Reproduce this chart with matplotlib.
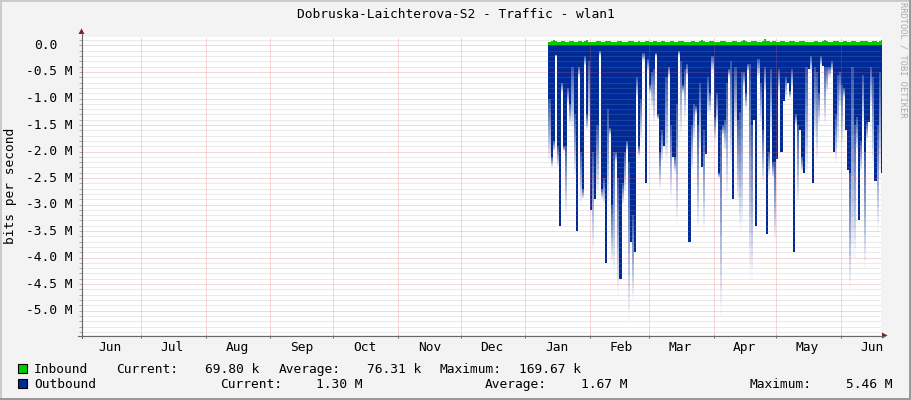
import matplotlib
matplotlib.use('Agg')
import matplotlib.pyplot as plt
import matplotlib.dates as mdates
from matplotlib.ticker import MultipleLocator, NullFormatter
from matplotlib.patches import Rectangle, Polygon
from matplotlib.lines import Line2D
from datetime import datetime, timedelta
import numpy as np

plt.rcParams['font.family'] = ['DejaVu Sans Mono', 'DejaVu Sans']

# daily values from 2023-01-12 on, outbound in Mbit/s (average and peak), inbound in kbit/s
start_day = datetime(2023, 1, 12)

out_avg = [
    1.0, 2.1, 1.8, 0.18, 1.9, 3.4, 0.7, 1.9, 1.9, 0.8,
    1.1, 0.4, 1.3, 3.5, 0.4, 2.0, 2.7, 0.2, 1.3, 0.3,
    3.1, 2.0, 2.9, 1.5, 0.1, 2.7, 2.5, 4.1, 1.2, 1.55,
    3.0, 2.0, 2.0, 2.5, 4.4, 2.6, 2.0, 1.8, 2.2, 3.7,
    3.2, 3.9, 0.6, 1.9, 1.0, 0.15, 2.6, 0.25, 0.75, 0.5,
    0.45, 0.15, 1.3, 2.0, 1.6, 1.9, 0.6, 0.4, 1.5, 2.1,
    2.1, 1.1, 0.1, 0.3, 0.75, 0.45, 0.35, 3.7, 1.5, 1.1,
    1.15, 1.5, 0.7, 2.3, 1.6, 2.05, 0.6, 0.9, 0.2, 1.35,
    0.9, 2.4, 1.6, 1.5, 1.4, 0.7, 0.45, 0.3, 2.9, 0.4,
    1.4, 1.25, 0.5, 0.5, 0.9, 0.35, 0.35, 1.5, 1.4, 3.4,
    0.25, 0.7, 1.6, 0.4, 3.55, 2.0, 0.45, 2.2, 2.2, 2.15,
    0.45, 2.0, 1.05, 0.6, 0.7, 0.85, 0.45, 3.9, 1.3, 1.5,
    1.6, 2.1, 2.4, 0.4, 0.45, 0.2, 2.6, 0.4, 0.5, 0.9,
    0.2, 0.38, 0.4, 0.4, 0.4, 0.3, 2.0, 1.3, 0.55, 0.5,
    0.75, 0.8, 1.6, 2.35, 2.4, 0.4, 1.5, 1.35, 3.3, 1.8,
    0.55, 2.0, 1.45, 1.45, 0.4, 0.6, 2.55, 1.5, 0.5, 2.4,
    1.35, 1.4,
]

out_max = [
    2.2, 2.3, 2.0, 0.2, 2.3, 3.4, 0.9, 2.0, 3.2, 1.1,
    1.5, 1.6, 2.5, 3.5, 0.6, 3.0, 2.9, 0.4, 1.6, 1.5,
    3.1, 3.9, 2.9, 2.8, 0.2, 2.9, 3.0, 4.1, 3.0, 1.7,
    4.1, 4.3, 2.2, 4.7, 4.4, 3.0, 2.8, 2.0, 5.2, 3.7,
    4.8, 3.9, 1.0, 2.1, 1.8, 0.3, 2.6, 0.5, 0.9, 1.2,
    1.5, 0.2, 1.4, 2.7, 2.2, 1.9, 2.2, 0.6, 2.9, 2.1,
    2.4, 3.4, 0.2, 1.7, 0.9, 1.4, 0.6, 3.7, 2.4, 1.8,
    1.3, 3.5, 2.0, 2.3, 3.5, 2.05, 1.3, 1.3, 0.5, 1.8,
    1.5, 2.5, 5.1, 1.7, 2.0, 2.9, 0.6, 2.3, 2.9, 1.6,
    3.0, 3.5, 3.5, 0.8, 1.2, 0.5, 4.4, 4.4, 1.4, 3.4,
    0.6, 1.5, 2.6, 0.9, 3.55, 2.5, 1.7, 2.5, 3.7, 2.15,
    0.9, 2.0, 1.05, 1.0, 0.7, 1.0, 0.8, 3.9, 1.5, 3.0,
    1.6, 2.4, 2.4, 2.5, 0.45, 0.5, 2.6, 1.8, 2.2, 1.5,
    0.4, 0.38, 1.5, 0.9, 0.6, 0.5, 2.0, 2.2, 1.9, 1.2,
    1.9, 1.0, 1.6, 2.35, 4.6, 4.0, 4.0, 2.0, 3.3, 2.4,
    1.5, 4.2, 1.8, 1.45, 1.2, 2.3, 2.55, 3.5, 2.5, 2.4,
    1.5, 1.4,
]

in_k = [
    72, 85, 96, 78, 64, 70, 88, 92, 75, 69, 81, 77, 60, 66, 90, 84, 73, 79, 95, 71,
    68, 62, 74, 86, 80, 58, 63, 77, 91, 82, 70, 66, 75, 88, 79, 72, 60, 69, 84, 93,
    76, 71, 65, 80, 74, 67, 89, 83, 70, 62, 78, 85, 73, 68, 92, 81, 66, 74, 87, 79,
    71, 64, 76, 90, 82, 69, 73, 61, 78, 86, 75, 70, 84, 97, 80, 72, 67, 79, 88, 74,
    65, 71, 83, 92, 78, 70, 62, 75, 86, 81, 73, 68, 80, 94, 85, 72, 66, 77, 89, 79,
    70, 64, 82, 118, 90, 76, 71, 84, 78, 69, 73, 86, 80, 74, 67, 79, 91, 83, 72, 68,
    77, 88, 81, 75, 70, 62, 74, 85, 79, 73, 66, 80, 95, 86, 74, 69, 78, 90, 82, 75,
    71, 84, 77, 68, 73, 87, 80, 72, 65, 79, 92, 84, 76, 70, 74, 88, 81, 73, 78, 95, 140, 70,
]

title = 'Dobruska-Laichterova-S2 - Traffic - wlan1'
legend_rows = [
    ('Inbound', '#00CC00', [('Current:', 116, '69.80 k', 205), ('Average:', 279, '76.31 k', 367),
                            ('Maximum:', 440, '169.67 k', 519)]),
    ('Outbound', '#002A97', [('Current:', 220, '1.30 M', 316), ('Average:', 485, '1.67 M', 581),
                             ('Maximum:', 750, '5.46 M', 846)]),
]

W, H = 911, 400
BLUE = '#002A97'
GREEN = '#00CC00'
AXIS = '#686868'
FS = 9.3


def fx(px):
    return px / W


def fy(py):
    return 1 - py / H


fig = plt.figure(figsize=(W / 100, H / 100), dpi=100)
fig.patch.set_facecolor('#F3F3F3')

ax = fig.add_axes([fx(82), fy(335), (881 - 82) / W, (335 - 37) / H])
ax.set_facecolor('white')

days = [start_day + timedelta(days=i) for i in range(len(out_avg))]
edges = days + [days[-1] + timedelta(days=1)]
avg = np.array(out_avg + [out_avg[-1]]) * 1e6
peak = np.array(out_max + [out_max[-1]]) * 1e6
inb = np.array(in_k + [in_k[-1]]) * 1e3

# outbound: solid average, peak fading out below it
ax.fill_between(edges, 0, -avg, step='post', color=BLUE, lw=0, zorder=1)
n_slices = 14
for k in range(n_slices):
    y0 = avg + (peak - avg) * k / n_slices
    y1 = avg + (peak - avg) * (k + 1) / n_slices
    ax.fill_between(edges, -y0, -y1, step='post', color=BLUE, lw=0,
                    alpha=0.8 * (1 - (k + 0.5) / n_slices), antialiased=False, zorder=1)
ax.fill_between(edges, 0, inb, step='post', color=GREEN, lw=0, zorder=1)

ax.set_xlim(datetime(2022, 6, 2, 20), datetime(2023, 6, 20, 3))
ax.set_ylim(-5.46e6, 0.16e6)

# grid
ax.set_axisbelow(False)
ax.yaxis.set_major_locator(MultipleLocator(0.5e6))
ax.yaxis.set_minor_locator(MultipleLocator(0.1e6))
ax.xaxis.set_major_locator(mdates.MonthLocator(bymonthday=1))
ax.xaxis.set_major_formatter(NullFormatter())
ax.xaxis.set_minor_locator(mdates.MonthLocator(bymonthday=16))
ax.xaxis.set_minor_formatter(mdates.DateFormatter('%b'))
dots = (0, (1, 1))
ax.grid(which='major', color='#E06060', alpha=0.5, linestyle=dots, lw=0.72)
ax.grid(which='minor', axis='y', color='#999999', alpha=0.4, linestyle=dots, lw=0.72)

ax.tick_params(axis='x', which='major', length=2.2, width=0.72, color=AXIS, direction='out')
ax.tick_params(axis='x', which='minor', length=0, labelsize=FS, pad=4)
ax.tick_params(axis='y', which='both', length=2, width=0.72, color='#AAAAAA', direction='out',
               labelleft=False)
for s in ax.spines.values():
    s.set_visible(False)

# y tick labels
for v in np.arange(0, -5.01, -0.5):
    if abs(v) < 1e-9:
        lab, off = '0.0', -25
    else:
        lab, off = '%.1f M' % v, -9
    ax.annotate(lab, xy=(0, v * 1e6), xycoords=('axes fraction', 'data'),
                xytext=(off, 0), textcoords='offset pixels', ha='right', va='center',
                fontsize=FS)

# axis lines and arrows
fig.add_artist(Line2D([fx(81.5), fx(81.5)], [fy(338), fy(33)], color=AXIS, lw=0.8))
fig.add_artist(Line2D([fx(78), fx(884)], [fy(335.5), fy(335.5)], color=AXIS, lw=0.8))
fig.add_artist(Polygon([[fx(78.5), fy(34)], [fx(84.5), fy(34)], [fx(81.5), fy(28.5)]],
                       closed=True, color='#7F1F1F', lw=0))
fig.add_artist(Polygon([[fx(882), fy(332.5)], [fx(882), fy(338.5)], [fx(887.5), fy(335.5)]],
                       closed=True, color='#7F1F1F', lw=0))

# texts
fig.text(0.5, fy(14), title, ha='center', va='center', fontsize=FS)
fig.text(fx(11), fy(186), 'bits per second', rotation=90, ha='center', va='center', fontsize=FS)
fig.text(fx(903.5), fy(60), 'RRDTOOL / TOBI OETIKER', rotation=270, ha='center', va='center',
         fontsize=6.2, color='#AAAAAA')

# legend
for r, (name, col, items) in enumerate(legend_rows):
    top = 364 + 15 * r
    fig.add_artist(Rectangle((fx(18), fy(top + 9)), 9 / W, 9 / H, facecolor=col,
                             edgecolor='black', lw=0.8))
    base = top + 9
    fig.text(fx(34), fy(base), name, ha='left', va='baseline', fontsize=FS)
    for lab, lx, val, vx in items:
        fig.text(fx(lx), fy(base), lab, ha='left', va='baseline', fontsize=FS)
        fig.text(fx(vx), fy(base), val, ha='left', va='baseline', fontsize=FS)

# frame shading
fig.add_artist(Rectangle((0, fy(2)), 1, 2 / H, facecolor='#CBCBCB', lw=0))
fig.add_artist(Rectangle((0, 0), 2 / W, 1, facecolor='#CBCBCB', lw=0))
fig.add_artist(Rectangle((0, 0), 1, 2 / H, facecolor='#999999', lw=0))
fig.add_artist(Rectangle((fx(909), 0), 2 / W, 1, facecolor='#999999', lw=0))

fig.savefig('out.png', dpi=100, facecolor=fig.get_facecolor())
